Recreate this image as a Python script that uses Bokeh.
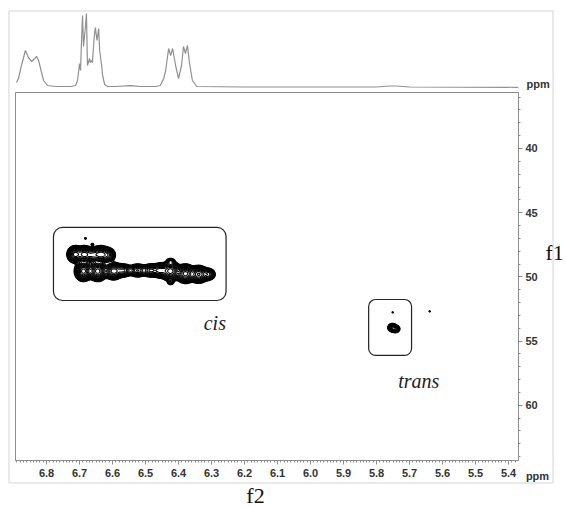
import numpy as np
from bokeh.plotting import figure
from bokeh.layouts import column
from bokeh.models import (Range1d, FixedTicker, PrintfTickFormatter, BoxAnnotation, Label,
                          LinearAxis)
from bokeh.core.properties import value
from bokeh.embed import file_html
from bokeh.resources import INLINE

# ---------------- data ----------------
# 1D projection (f2 ppm, relative intensity)
trace_ppm = [6.891, 6.885, 6.876, 6.864, 6.855, 6.845, 6.830, 6.824, 6.815, 6.809, 6.797, 6.773,
             6.727, 6.712, 6.706, 6.700, 6.697, 6.694, 6.691, 6.688, 6.685, 6.682, 6.679, 6.676,
             6.673, 6.670, 6.667, 6.664, 6.661, 6.655, 6.652, 6.647, 6.642, 6.639, 6.633, 6.630,
             6.624, 6.615, 6.591, 6.545, 6.515, 6.470, 6.455, 6.445, 6.439, 6.430, 6.424, 6.418,
             6.409, 6.400, 6.391, 6.385, 6.379, 6.373, 6.367, 6.358, 6.345, 6.200, 5.800, 5.760,
             5.740, 5.700, 5.370]
trace_int = [4, 8, 21, 36, 29, 25, 30, 26, 14, 6, 1, 0,
             0, 1, 6, 23, 16, 45, 71, 40, 50, 60, 73, 21,
             24, 28, 24, 26, 24, 51, 59, 46, 58, 36, 21, 11,
             2, 0, 0, 0.8, 0, 0, 1, 8, 16, 38, 31, 38,
             21, 8, 21, 40, 33, 41, 24, 6, 0, -0.5, -0.5, 0.5,
             0.5, -0.5, -0.8]

# 2D cross peaks: f2 (ppm), f1 (ppm), amplitude, f2 width, f1 width
peak_f2 = [6.713, 6.685, 6.660, 6.636, 6.614,
           6.688, 6.645, 6.597, 6.567, 6.524, 6.485, 6.455, 6.424, 6.379, 6.339, 6.310,
           6.682, 6.661, 6.424, 6.424,
           5.752, 5.743, 5.751, 5.639]
peak_f1 = [48.25, 48.25, 48.3, 48.25, 48.3,
           49.55, 49.55, 49.55, 49.5, 49.5, 49.5, 49.5, 49.55, 49.75, 49.8, 49.8,
           47.0, 47.47, 48.8, 50.43,
           53.95, 54.05, 52.76, 52.68]
peak_amp = [1.0, 1.0, 0.6, 1.0, 0.5,
            1.0, 1.0, 0.8, 0.55, 0.55, 0.55, 0.6, 1.0, 1.0, 0.9, 0.35,
            0.06, 0.08, 0.25, 0.15,
            0.6, 0.5, 0.05, 0.05]
peak_wf2 = [0.010, 0.011, 0.010, 0.012, 0.010,
            0.011, 0.012, 0.012, 0.012, 0.012, 0.012, 0.012, 0.012, 0.012, 0.012, 0.010,
            0.003, 0.003, 0.006, 0.005,
            0.006, 0.006, 0.003, 0.003]
peak_wf1 = [0.27, 0.27, 0.25, 0.27, 0.25,
            0.32, 0.32, 0.28, 0.22, 0.22, 0.22, 0.25, 0.32, 0.30, 0.28, 0.22,
            0.06, 0.06, 0.12, 0.10,
            0.14, 0.13, 0.06, 0.06]

x_ticks = [6.8, 6.7, 6.6, 6.5, 6.4, 6.3, 6.2, 6.1, 6.0, 5.9, 5.8, 5.7, 5.6, 5.5, 5.4]
y_ticks = [40, 45, 50, 55, 60]

X0, X1 = 6.894, 5.37
Y0, Y1 = 35.64, 64.3
F1_POS, PPM_TOP = 48.1, 3.0

GRAY = "#8c8c8c"
W, H = 566, 507

# ---------------- top 1D trace ----------------
xr = Range1d(X0, X1)

top = figure(width=W, height=91, x_range=xr, y_range=Range1d(-5, 75),
             output_backend="svg", toolbar_location=None,
             x_axis_location=None, y_axis_location=None,
             min_border_left=15, min_border_right=47, min_border_top=11, min_border_bottom=0)
top.grid.visible = False
top.outline_line_color = None
top.line(trace_ppm, trace_int, line_color="#909090", line_width=1.2)

ppm_axis = LinearAxis(ticker=FixedTicker(ticks=[PPM_TOP]), major_label_overrides={PPM_TOP: "ppm"})
ppm_axis.axis_line_color = None
ppm_axis.major_tick_line_color = None
ppm_axis.minor_tick_line_color = None
ppm_axis.major_tick_out = 0
ppm_axis.major_tick_in = 0
ppm_axis.major_label_standoff = 8
ppm_axis.major_label_text_font = "Liberation Sans"
ppm_axis.major_label_text_font_style = "bold"
ppm_axis.major_label_text_font_size = "11px"
ppm_axis.major_label_text_color = "#333333"
top.add_layout(ppm_axis, "right")

# ---------------- main 2D plot ----------------
p = figure(width=W, height=416, x_range=xr, y_range=Range1d(Y1, Y0),
           output_backend="svg", toolbar_location=None,
           y_axis_location="right", x_axis_location="below",
           min_border_left=15, min_border_right=47, min_border_top=1, min_border_bottom=47)
p.grid.visible = False
p.outline_line_color = GRAY

gx = np.linspace(X1, X0, 900)
gy = np.linspace(Y0, Y1, 700)
GX, GY = np.meshgrid(gx, gy)
Z = np.zeros_like(GX)
for cx, cy, a, sx, sy in zip(peak_f2, peak_f1, peak_amp, peak_wf2, peak_wf1):
    Z += a * np.exp(-0.5 * ((GX - cx) / sx) ** 2 - 0.5 * ((GY - cy) / sy) ** 2)
levels = list(0.035 * 1.28 ** np.arange(15))
p.contour(gx, gy, Z, levels=levels, line_color="black", line_width=1.1, fill_color=None)

# boxes around the regions
p.add_layout(BoxAnnotation(left=6.779, right=6.256, top=46.15, bottom=51.84,
                           fill_color=None, line_color="#222222", line_alpha=1.0,
                           line_width=1.2, border_radius=9))
p.add_layout(BoxAnnotation(left=5.824, right=5.694, top=51.76, bottom=56.12,
                           fill_color=None, line_color="#222222", line_alpha=1.0,
                           line_width=1.2, border_radius=7))

lab_kw = dict(text_font="Liberation Serif", text_align="center", text_baseline="middle")
p.add_layout(Label(x=6.290, y=53.63, text="cis", text_font_style="italic", text_font_size="20px",
                   text_color="#222222", **lab_kw))
p.add_layout(Label(x=5.672, y=58.07, text="trans", text_font_style="italic", text_font_size="20px",
                   text_color="#222222", **lab_kw))

minor_x = [round(v, 2) for v in np.arange(5.38, 6.895, 0.01)]
p.xaxis.ticker = FixedTicker(ticks=x_ticks, minor_ticks=minor_x)
p.xaxis.formatter = PrintfTickFormatter(format="%.1f")
p.yaxis.ticker = FixedTicker(ticks=y_ticks, minor_ticks=list(range(36, 65)))
p.yaxis.formatter = PrintfTickFormatter(format="%d")
for ax in (p.xaxis[0], p.yaxis[0]):
    ax.axis_line_color = GRAY
    ax.major_tick_line_color = GRAY
    ax.minor_tick_line_color = GRAY
    ax.major_tick_in = 0
    ax.major_tick_out = 4
    ax.minor_tick_in = 0
    ax.minor_tick_out = 2
    ax.major_label_text_font = "Liberation Sans"
    ax.major_label_text_font_style = "bold"
    ax.major_label_text_font_size = "11px"
    ax.major_label_text_color = "#333333"
p.xaxis.major_label_standoff = 4
p.yaxis.major_label_standoff = 3

# dimension name f1 as a single-label axis
f1_axis = LinearAxis(ticker=FixedTicker(ticks=[F1_POS]), major_label_overrides={F1_POS: "f1"})
f1_axis.axis_line_color = None
f1_axis.major_tick_line_color = None
f1_axis.minor_tick_line_color = None
f1_axis.major_tick_out = 0
f1_axis.major_tick_in = 0
f1_axis.major_label_standoff = 5
f1_axis.major_label_text_font = "Liberation Serif"
f1_axis.major_label_text_font_size = "22px"
f1_axis.major_label_text_color = "#111111"
p.add_layout(f1_axis, "right")

# ---------------- overlay (pixel space): outer panel frame, "ppm" and "f2" ----------------
deco = figure(width=W, height=H, x_range=Range1d(0, W), y_range=Range1d(H, 0),
              output_backend="svg", toolbar_location=None,
              x_axis_location=None, y_axis_location=None, min_border=0,
              background_fill_color=None, border_fill_color=None, outline_line_color=None,
              margin=(-H, 0, 0, 0))
if "frame_align" in deco.properties():
    deco.frame_align = False
deco.grid.visible = False
deco.add_layout(BoxAnnotation(left=8.5, right=552.5, top=10.5, bottom=482.5,
                              fill_color=None, line_color="#d4d4d4", line_alpha=1.0, line_width=1))
deco.text(x=[537], y=[475], text=["ppm"], text_align="center", text_baseline="middle",
          text_font=value("Liberation Sans"), text_font_style="bold",
          text_font_size="11px", text_color="#333333")
deco.text(x=[255], y=[494.5], text=["f2"], text_align="center", text_baseline="middle",
          text_font=value("Liberation Serif"), text_font_size="22px", text_color="#111111")

layout = column(top, p, deco, spacing=0)
open("out.html", "w").write(file_html(layout, INLINE))
